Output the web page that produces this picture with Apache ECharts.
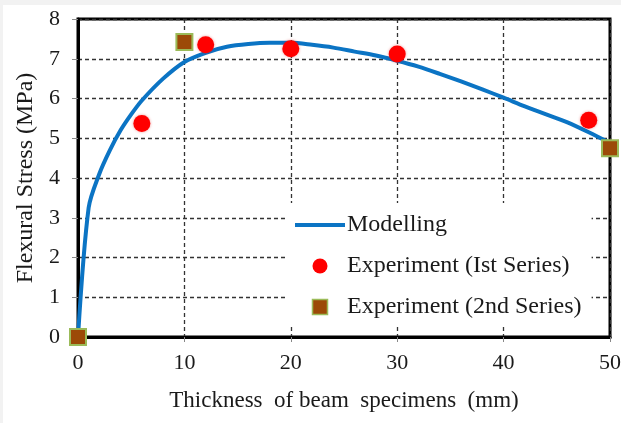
<!DOCTYPE html>
<html>
<head>
<meta charset="utf-8">
<script src="https://cdn.jsdelivr.net/npm/echarts@6/dist/echarts.min.js"></script>
<style>
  html, body { margin: 0; padding: 0; background: #f2f2f2; }
  #chart { position: absolute; left: 3px; top: 5px; width: 618px; height: 418px; background: #ffffff; }
</style>
</head>
<body>
<div id="chart"></div>
<script>
// Modelled flexural stress versus beam thickness
const modelThickness = [0, 1, 2, 3, 4, 5, 6, 8, 10, 12, 14, 16, 18, 20, 22, 24, 26, 28, 30, 32, 34, 36, 38, 40, 42, 44, 46, 48, 50];
const modelStress    = [0, 3.25, 4.1, 4.7, 5.2, 5.6, 5.95, 6.5, 6.92, 7.15, 7.3, 7.37, 7.4, 7.4, 7.35, 7.28, 7.18, 7.08, 6.95, 6.8, 6.62, 6.43, 6.23, 6.02, 5.8, 5.6, 5.4, 5.15, 4.88];

// Experimental results, 1st series
const exp1Thickness = [6, 12, 20, 30, 48];
const exp1Stress    = [5.37, 7.35, 7.25, 7.12, 5.45];

// Experimental results, 2nd series
const exp2Thickness = [0, 10, 50];
const exp2Stress    = [0, 7.42, 4.75];

// Axis ticks
const xTicks = [0, 10, 20, 30, 40, 50];
const yTicks = [0, 1, 2, 3, 4, 5, 6, 7, 8];

const seriesNames = ['Modelling', 'Experiment (Ist Series)', 'Experiment (2nd Series)'];

const pairs = (xs, ys) => xs.map((x, i) => [x, ys[i]]);

const font = 'Liberation Serif';
const chart = echarts.init(document.getElementById('chart'), null, { renderer: 'canvas' });

chart.setOption({
  animation: false,
  backgroundColor: '#ffffff',
  grid: {
    left: 75, right: 11, top: 14, bottom: 86,
    show: true, borderColor: '#000', borderWidth: 3, backgroundColor: '#ffffff',
    containLabel: false, outerBoundsMode: 'none'
  },
  xAxis: {
    type: 'value',
    min: xTicks[0], max: xTicks[xTicks.length - 1], interval: 10,
    name: 'Thickness  of beam  specimens  (mm)',
    nameLocation: 'middle', nameGap: 52,
    nameTextStyle: { fontFamily: font, fontSize: 23, color: '#1a1a1a' },
    axisLine: { lineStyle: { color: '#000', width: 3 } },
    axisTick: { show: true, length: 5, lineStyle: { color: '#888' } },
    axisLabel: { fontFamily: font, fontSize: 22, color: '#1a1a1a', margin: 15 },
    splitLine: { show: true, lineStyle: { color: '#333', width: 1.3, type: [4, 3] } }
  },
  yAxis: {
    type: 'value',
    min: yTicks[0], max: yTicks[yTicks.length - 1], interval: 1,
    name: 'Flexural Stress (MPa)',
    nameLocation: 'middle', nameGap: 40,
    nameTextStyle: { fontFamily: font, fontSize: 24, color: '#1a1a1a' },
    axisLine: { lineStyle: { color: '#000', width: 3 } },
    axisTick: { show: true, length: 6, lineStyle: { color: '#888' } },
    axisLabel: { fontFamily: font, fontSize: 22, color: '#1a1a1a', margin: 18 },
    splitLine: { show: true, lineStyle: { color: '#333', width: 1.3, type: [4, 3] } }
  },
  legend: {
    orient: 'vertical',
    left: 284, top: 198,
    padding: [10, 10, 8, 8],
    backgroundColor: '#ffffff',
    itemWidth: 50, itemHeight: 15, itemGap: 17,
    textStyle: { fontFamily: font, fontSize: 24, color: '#1a1a1a', padding: [0, 0, 0, -3] },
    data: [
      { name: seriesNames[0], icon: 'path://M0,0h50v4h-50z' },
      { name: seriesNames[1], icon: 'circle' },
      { name: seriesNames[2], icon: 'path://M0,0h10v10h-10z', itemStyle: { borderWidth: 1.5 } }
    ]
  },
  series: [
    {
      name: seriesNames[0],
      type: 'line',
      data: pairs(modelThickness, modelStress),
      smooth: 0.3,
      symbol: 'none',
      lineStyle: { color: '#0b74c4', width: 4 },
      itemStyle: { color: '#0b74c4' },
      z: 2
    },
    {
      name: seriesNames[1],
      type: 'scatter',
      data: pairs(exp1Thickness, exp1Stress),
      symbol: 'circle',
      symbolSize: 17,
      itemStyle: { color: '#ff0000', opacity: 1, shadowColor: 'rgba(220,0,0,0.4)', shadowBlur: 3 },
      z: 3
    },
    {
      name: seriesNames[2],
      type: 'scatter',
      data: pairs(exp2Thickness, exp2Stress),
      symbol: 'rect',
      symbolSize: 16,
      itemStyle: { color: '#9c4a08', opacity: 1, borderColor: '#9bbb59', borderWidth: 2 },
      z: 4
    }
  ]
});
</script>
</body>
</html>
